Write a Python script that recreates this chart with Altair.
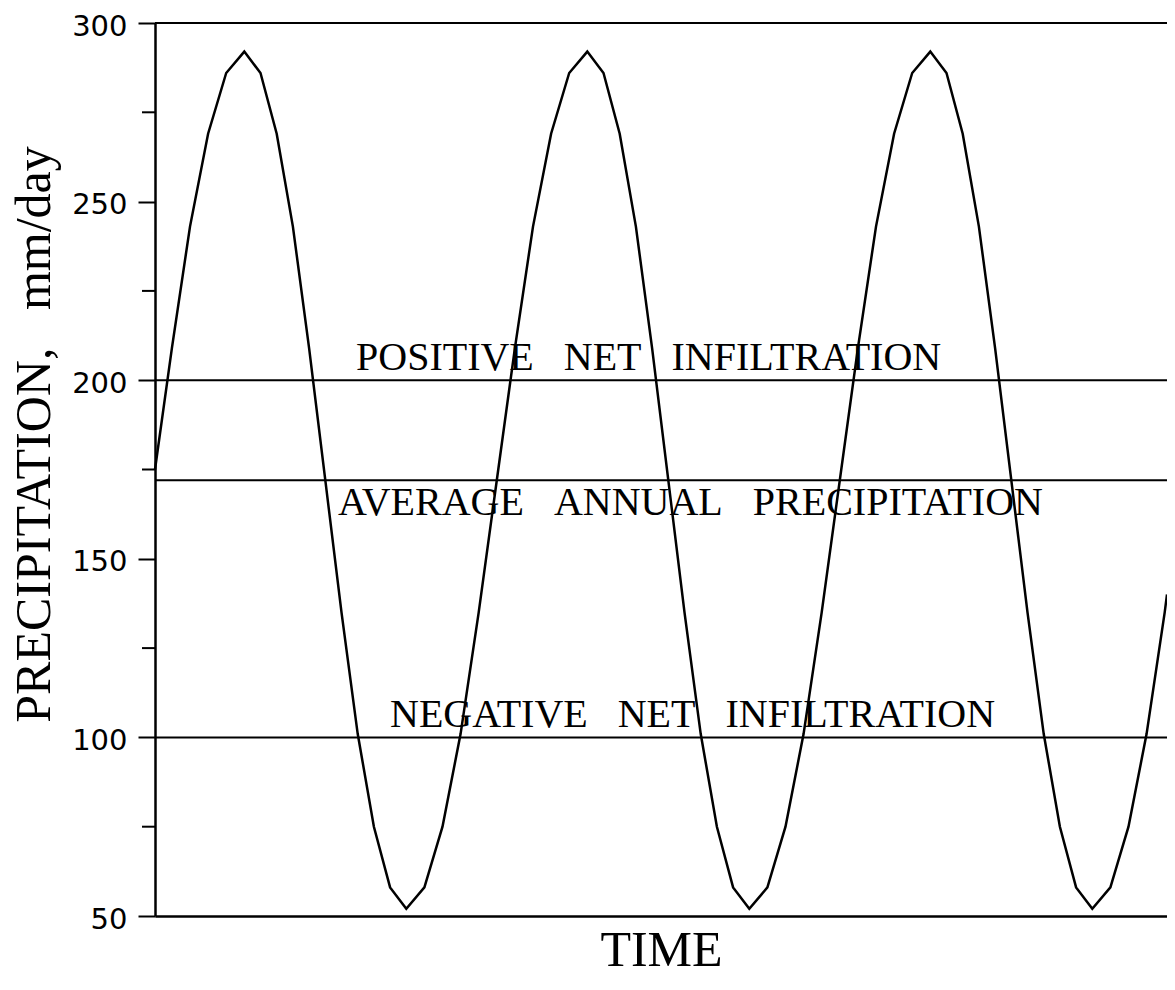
import altair as alt
import pandas as pd

# Curve vertices (time in arbitrary units, precipitation mm/day)
time = [0, 16.9, 35.0, 53.1, 71.2, 89.3,
        105.5, 121.7, 137.9, 154.1, 170.3, 186.5, 202.7, 218.9, 235.1, 251.3,
        269.4, 287.5, 305.6, 323.7, 341.8, 359.9, 378.0, 396.1, 414.2, 432.3,
        448.5, 464.7, 480.9, 497.1, 513.3, 529.5, 545.7, 561.9, 578.1, 594.3,
        612.4, 630.5, 648.6, 666.7, 684.8, 702.9, 721.0, 739.1, 757.2, 775.3,
        791.5, 807.7, 823.9, 840.1, 856.3, 872.5, 888.7, 904.9, 921.1, 937.3,
        955.4, 973.5, 991.6, 1009.7, 1012]
precip = [175, 209, 243, 269, 286, 292,
          286, 269, 243, 209, 172, 135, 101, 75, 58, 52,
          58, 75, 101, 135, 172, 209, 243, 269, 286, 292,
          286, 269, 243, 209, 172, 135, 101, 75, 58, 52,
          58, 75, 101, 135, 172, 209, 243, 269, 286, 292,
          286, 269, 243, 209, 172, 135, 101, 75, 58, 52,
          58, 75, 101, 135, 140]

levels = [300, 200, 172, 100]

NB = "\u00a0"
label_text = [f"POSITIVE{NB*3}NET{NB*3}INFILTRATION",
              f"AVERAGE{NB*3}ANNUAL{NB*3}PRECIPITATION",
              f"NEGATIVE{NB*3}NET{NB*3}INFILTRATION"]
label_t = [201, 183, 235]
label_p = [202.9, 162.3, 102.9]

major_ticks = [50, 100, 150, 200, 250, 300]
minor_ticks = [75, 125, 175, 225, 275]

curve_df = pd.DataFrame({"t": time, "p": precip})
level_df = pd.DataFrame({"p": levels})
label_df = pd.DataFrame({"t": label_t, "p": label_p, "label": label_text})
minor_df = pd.DataFrame({"p": minor_ticks})

x_enc = alt.X(
    "t:Q",
    scale=alt.Scale(domain=[0, 1012], nice=False, zero=False),
    axis=alt.Axis(
        title="TIME", ticks=False, labels=False, grid=False,
        domainWidth=2.5, domainColor="black",
        titleFont="Liberation Serif", titleFontSize=50, titleFontWeight="normal",
        titleColor="black", titleY=49, titleBaseline="alphabetic",
    ),
)
y_enc = alt.Y(
    "p:Q",
    scale=alt.Scale(domain=[50, 300], nice=False, zero=False),
    axis=alt.Axis(
        title=f"PRECIPITATION,{NB*3}mm/day", values=major_ticks, grid=False,
        tickSize=17, tickWidth=2, tickColor="black",
        domainWidth=2.5, domainColor="black",
        labelFont="DejaVu Sans", labelFontSize=29, labelColor="black",
        labelPadding=11, labelOffset=3,
        titleFont="Liberation Serif", titleFontSize=50, titleFontWeight="normal",
        titleColor="black", titleAngle=270, titleX=-106, titleY=411,
        titleBaseline="alphabetic", titleAlign="center",
    ),
)

curve = alt.Chart(curve_df).mark_line(color="black", strokeWidth=2.5).encode(x=x_enc, y=y_enc)
rules = alt.Chart(level_df).mark_rule(color="black", strokeWidth=2).encode(y=y_enc)
minor = alt.Chart(minor_df).mark_rule(color="black", strokeWidth=2).encode(
    y=y_enc, x=alt.value(-13), x2=alt.value(0))
labels = alt.Chart(label_df).mark_text(
    align="left", baseline="alphabetic", font="Liberation Serif",
    fontSize=40, color="black").encode(x=x_enc, y=y_enc, text="label:N")

chart = alt.layer(rules, minor, curve, labels).properties(
    width=1012, height=893,
    autosize=alt.AutoSizeParams(type="none"),
    padding={"left": 147, "top": 15, "right": 0, "bottom": 66},
    background="white",
).configure_view(stroke=None)

chart.save("out.html", embed_options={"renderer": "svg", "actions": False})
